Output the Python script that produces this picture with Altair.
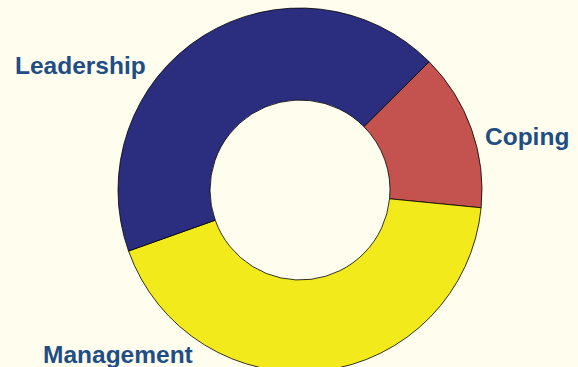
import math
import altair as alt
import pandas as pd

categories = ["Coping", "Management", "Leadership"]
values = [14, 43, 43]
colors = ["#C4534F", "#F2EA1B", "#2B2E7E"]

df = pd.DataFrame({"category": categories, "value": values, "order": [0, 1, 2]})
start = math.radians(45.2)

arc = alt.Chart(df).mark_arc(
    outerRadius=182, innerRadius=90, stroke="black", strokeWidth=0.8
).encode(
    theta=alt.Theta("value:Q", stack=True,
                    scale=alt.Scale(range=[start, start + 2 * math.pi])),
    color=alt.Color("category:N",
                    scale=alt.Scale(domain=categories, range=colors),
                    legend=None),
    order=alt.Order("order:Q"),
    x=alt.value(300),
    y=alt.value(190),
)

def label(txt, x, y):
    return alt.Chart(pd.DataFrame({"t": [txt]})).mark_text(
        font="Liberation Sans", fontWeight="bold", fontSize=24.5,
        color="#1F4E85", align="left", baseline="alphabetic"
    ).encode(text="t:N", x=alt.value(x), y=alt.value(y))

chart = alt.layer(
    arc,
    label("Leadership", 15, 74),
    label("Coping", 485, 145),
    label("Management", 43, 363),
).properties(
    width=578, height=367, autosize=alt.AutoSizeParams(type="none"), padding=0,
    background="#FFFDEE",
).configure_view(stroke=None)

chart.save("out.html", embed_options={"renderer": "svg", "actions": False})
